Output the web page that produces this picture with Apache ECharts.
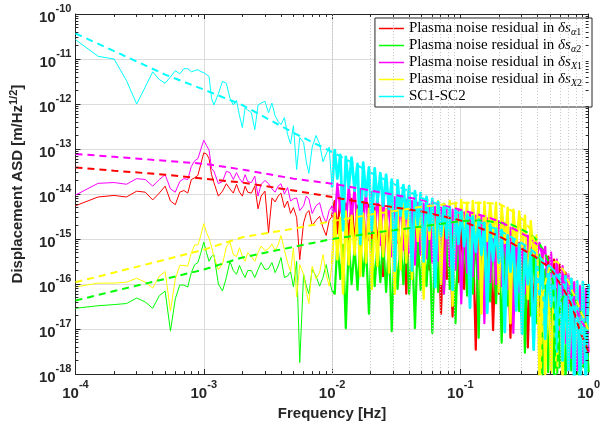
<!DOCTYPE html>
<html><head><meta charset="utf-8">
<script src="https://cdn.jsdelivr.net/npm/echarts@6/dist/echarts.min.js"></script>
<style>html,body{margin:0;padding:0;background:#fff}#c{width:603px;height:426px}</style>
</head><body><div id="c"></div>
<script>
// ---------- data ----------
const freq = [
 1e-4,1.5e-4,2e-4,2.5e-4,3e-4,3.5e-4,4e-4,4.5e-4,5e-4,5.5e-4,6e-4,6.5e-4,7e-4,7.5e-4,8e-4,8.5e-4,9e-4,9.5e-4,1e-3,
 1.05e-3,1.1e-3,1.15e-3,1.2e-3,1.3e-3,1.4e-3,1.5e-3,1.6e-3,1.7e-3,1.8e-3,1.9e-3,2e-3,2.1e-3,2.2e-3,2.35e-3,2.5e-3,2.65e-3,2.8e-3,3e-3,3.2e-3,
 3.4e-3,3.6e-3,3.8e-3,4e-3,4.25e-3,4.5e-3,4.75e-3,5e-3,5.3e-3,5.6e-3,6e-3,6.3e-3,6.6e-3,7e-3,7.5e-3,8e-3,8.5e-3,9e-3,9.5e-3,1e-2,
 0.0105,0.011,0.0116,0.0122,0.0128,0.0135,0.0142,0.015,0.0158,0.0166,0.0175,0.0184,0.0194,0.0204,0.0215,0.0226,0.0238,0.025,0.0264,0.0278,
 0.0292,0.0308,0.0324,0.0342,0.036,0.0379,0.0399,0.042,0.0443,0.0466,0.0491,0.0518,0.0545,0.0574,0.0605,0.0637,0.0671,0.0707,0.0745,0.0784,
 0.0826,0.087,0.0917,0.0966,0.1017,0.107,0.113,0.119,0.125,0.132,0.139,0.146,0.154,0.162,0.171,0.18,0.19,0.2,0.21,0.222,
 0.234,0.246,0.259,0.273,0.288,0.303,0.319,0.336,0.354,0.373,0.393,0.414,0.436,0.459,0.484,0.51,0.537,0.565,0.595,0.627,
 0.661,0.696,0.733,0.772,0.813,0.857,0.902,0.95,1.0
];
const resA1 = [
 5.5e-15,8.6e-15,9.3e-15,8.6e-15,1.16e-14,1.1e-14,7.4e-15,1.05e-14,1.5e-14,7.0e-15,5.8e-15,1.1e-14,1.2e-14,1.05e-14,2.1e-14,2.3e-14,2.6e-14,4.7e-14,8.2e-14,
 7.8e-14,6.1e-14,2.7e-14,1.8e-14,9.0e-15,1.16e-14,1.7e-14,1.3e-14,1.05e-14,1.65e-14,1.1e-14,9.0e-15,1.5e-14,1.1e-14,1.05e-14,1.5e-14,4.7e-15,9.0e-15,1.16e-14,1.4e-15,
 8.2e-15,6.7e-15,9.0e-15,1.05e-14,5.0e-15,7.0e-15,3.7e-15,5.0e-15,3.0e-15,3.5e-16,2.3e-15,3.7e-15,4.3e-15,2.0e-15,2.6e-15,3.2e-15,1.8e-15,1.2e-15,2.6e-15,3.2e-15,
 7.0e-15,1.35e-15,8.2e-15,2.0e-15,6.1e-15,1.0e-15,7.8e-15,7.4e-16,5.5e-15,1.65e-15,
 6.7e-15,4.1e-16,5.8e-15,8.2e-16,5.0e-15,5.8e-16,5.5e-15,1.5e-16,4.5e-15,5.0e-16,
 4.7e-15,4.1e-16,4.1e-15,3.0e-16,4.3e-15,6.1e-17,3.5e-15,3.3e-16,3.7e-15,2.5e-16,
 3.2e-15,1.0e-16,3.0e-15,2.1e-16,2.7e-15,1.8e-16,2.5e-15,2.2e-17,2.3e-15,1.3e-16,
 2.1e-15,1.9e-17,2.1e-15,1.1e-16,2.0e-15,7.8e-17,1.8e-15,1.0e-16,1.65e-15,3.5e-18,
 1.57e-15,7.4e-17,1.4e-15,6.1e-17,1.35e-15,9.5e-18,1.2e-15,6.1e-17,1.1e-15,4.7e-17,
 1.0e-15,6.4e-18,9.0e-16,4.1e-17,8.2e-16,3.3e-17,7.4e-16,3.9e-18,6.4e-16,2.5e-17,
 5.5e-16,2.0e-17,4.7e-16,1.35e-17,4.1e-16,8.2e-18,3.5e-16,1.05e-17,2.7e-16,3.0e-18,
 1.8e-16,1.8e-18,1.3e-16,1.0e-18,7.8e-17,1.4e-18,6.1e-17,1.65e-18,4.7e-17
];
const resA2 = [
 2.9e-17,3.3e-17,3.5e-17,3.7e-17,4.9e-17,4.0e-17,2.9e-17,5.5e-17,7.0e-17,9.0e-18,4.7e-17,9.5e-17,9.5e-17,8.6e-17,1.8e-16,2.7e-16,3.0e-16,5.0e-16,8.6e-16,
 5.0e-16,3.2e-16,4.1e-16,4.5e-16,1.0e-16,7.0e-17,1.4e-16,3.2e-16,2.0e-16,1.65e-16,2.6e-16,1.8e-16,1.4e-16,2.0e-16,2.0e-16,1.4e-16,2.1e-16,3.0e-16,2.1e-16,2.2e-16,
 3.0e-16,1.8e-16,2.5e-16,3.9e-16,1.4e-16,1.5e-16,1.9e-16,8.6e-17,3.2e-16,1.8e-18,1.65e-16,9.0e-17,6.1e-17,2.1e-16,1.5e-16,9.0e-17,1.4e-16,2.7e-16,1.3e-16,7.0e-17,
 6.1e-17,8.2e-16,1.3e-16,7.4e-16,1.05e-17,9.0e-16,1.0e-16,6.7e-16,7.4e-17,8.6e-16,
 1.5e-16,7.4e-16,2.2e-17,9.5e-16,9.0e-17,7.8e-16,1.1e-16,1.0e-15,6.7e-17,8.2e-16,
 9.0e-18,1.05e-15,7.8e-17,9.0e-16,1.0e-16,1.16e-15,6.1e-17,9.5e-16,1.05e-17,1.2e-15,
 7.4e-17,1.05e-15,9.0e-17,1.35e-15,8.2e-18,1.16e-15,6.7e-17,1.4e-15,6.1e-17,1.2e-15,
 7.8e-17,1.57e-15,1.35e-17,1.35e-15,6.7e-17,1.65e-15,5.5e-17,1.4e-15,6.1e-17,1.7e-15,
 6.4e-18,1.57e-15,4.7e-17,1.7e-15,4.1e-17,1.57e-15,3.7e-17,1.65e-15,5.0e-18,1.57e-15,
 3.3e-17,1.4e-15,2.9e-17,1.35e-15,2.5e-17,1.2e-15,3.0e-18,1.1e-15,2.0e-17,8.2e-16,
 1.35e-17,4.5e-16,8.6e-19,2.1e-16,1.1e-18,1.0e-16,1.0e-18,7.8e-17,1.4e-18,6.1e-17,
 8.6e-19,3.7e-17,1.2e-18,2.9e-17,1.0e-18,2.2e-17,1.4e-18,2.0e-17,1.1e-18
];
const resX1 = [
 9.5e-15,1.73e-14,1.8e-14,1.65e-14,2.2e-14,2.1e-14,1.5e-14,2.1e-14,2.7e-14,1.3e-14,1.1e-14,1.9e-14,2.2e-14,2.1e-14,4.1e-14,5.5e-14,6.1e-14,1.0e-13,1.57e-13,
 1.2e-13,9.5e-14,3.7e-14,3.2e-14,1.7e-14,1.9e-14,3.2e-14,3.0e-14,2.1e-14,3.0e-14,2.2e-14,1.8e-14,2.7e-14,1.9e-14,1.8e-14,2.5e-14,9.0e-15,1.65e-14,2.0e-14,1.7e-14,
 1.3e-14,1.1e-14,1.5e-14,1.7e-14,1.0e-14,1.4e-14,7.0e-15,7.8e-15,8.2e-15,4.3e-15,5.5e-15,9.0e-15,7.8e-15,3.7e-15,5.5e-15,6.4e-15,3.3e-15,2.3e-15,4.3e-15,5.5e-15,
 2.6e-15,1.7e-14,4.3e-15,1.5e-14,1.8e-15,1.55e-14,3.0e-15,1.35e-14,1.35e-15,1.3e-14,
 2.0e-15,1.16e-14,9.5e-16,1.1e-14,1.57e-15,1.05e-14,7.4e-16,9.5e-15,1.2e-15,9.0e-15,
 4.1e-16,8.6e-15,8.2e-16,8.2e-15,5.8e-16,7.4e-15,5.0e-16,7.0e-15,2.7e-16,6.4e-15,
 4.5e-16,6.1e-15,3.7e-16,5.8e-15,3.0e-16,5.2e-15,3.3e-16,5.0e-15,6.1e-17,4.7e-15,
 2.5e-16,4.5e-15,2.1e-16,4.3e-15,3.7e-17,3.9e-15,1.8e-16,3.7e-15,1.5e-16,3.3e-15,
 1.3e-16,3.2e-15,1.35e-17,2.9e-15,1.1e-16,2.6e-15,1.0e-16,2.5e-15,9.0e-17,2.1e-15,
 7.8e-17,1.8e-15,8.2e-18,1.65e-15,6.7e-17,1.4e-15,6.1e-17,1.2e-15,4.1e-16,9.5e-16,
 3.5e-16,8.2e-16,4.1e-16,6.7e-16,4.7e-17,5.0e-16,2.9e-17,3.5e-16,8.2e-18,2.5e-16,
 5.0e-18,1.65e-16,2.3e-18,1.1e-16,1.2e-18,9.0e-17,1.8e-18,7.8e-17,3.0e-18
];
const resX2 = [
 8.6e-17,1.05e-16,1.05e-16,1.1e-16,1.35e-16,1.1e-16,8.2e-17,1.5e-16,1.9e-16,2.5e-17,1.3e-16,2.6e-16,2.6e-16,2.5e-16,5.0e-16,7.4e-16,7.4e-16,1.22e-15,2.2e-15,
 1.4e-15,1.05e-15,6.7e-16,4.1e-16,2.1e-16,2.8e-16,6.7e-16,8.6e-16,4.5e-16,4.1e-16,6.4e-16,4.1e-16,3.2e-16,5.0e-16,4.1e-16,3.2e-16,5.0e-16,7.0e-16,5.5e-16,6.1e-16,
 7.8e-16,5.5e-16,7.4e-16,1.2e-15,5.8e-16,3.0e-16,1.9e-16,6.4e-16,5.2e-17,2.7e-16,1.65e-16,6.7e-17,3.7e-17,2.5e-16,1.3e-16,1.8e-16,4.5e-16,1.65e-16,9.0e-17,2.8e-16,
 3.7e-15,3.5e-16,3.0e-15,6.1e-17,4.1e-15,2.7e-16,3.3e-15,4.5e-16,4.5e-15,1.5e-16,
 3.7e-15,3.0e-16,4.7e-15,7.8e-17,4.1e-15,2.5e-16,5.2e-15,4.1e-16,4.5e-15,1.8e-16,
 5.5e-15,6.1e-17,4.7e-15,2.1e-16,6.1e-15,3.0e-16,5.2e-15,1.3e-16,6.4e-15,9.0e-16,
 5.5e-15,4.7e-17,6.7e-15,1.0e-15,5.8e-15,8.2e-16,7.0e-15,1.0e-16,6.1e-15,1.1e-15,
 7.0e-15,3.3e-17,6.4e-15,9.5e-16,7.4e-15,1.2e-15,6.4e-15,9.0e-17,7.0e-15,1.0e-15,
 6.4e-15,2.2e-17,6.7e-15,9.0e-16,6.1e-15,1.1e-15,6.4e-15,6.7e-17,5.5e-15,8.2e-16,
 5.0e-15,1.35e-17,4.5e-15,7.0e-16,4.1e-15,6.1e-16,3.3e-15,4.7e-17,2.5e-15,4.5e-16,
 1.2e-15,8.6e-19,3.5e-16,1.0e-18,2.1e-16,1.1e-18,1.4e-16,1.2e-18,1.1e-16,8.6e-19,
 7.8e-17,1.4e-18,6.1e-17,1.1e-18,4.7e-17,1.65e-18,6.1e-17,1.2e-18,4.7e-17
];
const sc12 = [
 2.7e-11,1.15e-11,1.0e-11,3.3e-12,1.0e-12,2.4e-12,5.2e-12,3.5e-12,2.9e-12,4.0e-12,5.5e-12,4.7e-12,6.1e-12,6.1e-12,5.2e-12,5.5e-12,5.8e-12,5.2e-12,5.0e-12,
 4.5e-12,4.1e-12,1.35e-12,9.5e-13,1.7e-12,3.2e-12,2.9e-12,1.35e-12,9.5e-13,1.2e-12,5.5e-13,3.0e-13,8.2e-13,7.4e-13,6.4e-13,2.7e-13,9.5e-13,1.05e-12,1.15e-12,6.4e-13,
 1.05e-12,5.5e-13,4.1e-13,3.5e-13,5.0e-13,2.1e-13,1.3e-13,3.3e-13,3.5e-14,1.8e-13,1.4e-13,5.2e-14,2.9e-14,1.1e-13,2.0e-13,1.3e-13,5.2e-14,7.8e-14,1.1e-13,1.4e-14,
 9.5e-14,2.2e-14,7.4e-14,1.57e-15,6.7e-14,1.4e-14,6.4e-14,1.2e-14,4.7e-14,7.8e-16,
 5.0e-14,9.0e-15,3.9e-14,1.57e-15,3.7e-14,6.7e-15,2.9e-14,5.5e-15,2.7e-14,4.7e-15,
 2.1e-14,2.0e-16,2.0e-14,3.3e-15,1.57e-14,2.9e-15,1.5e-14,2.0e-16,1.16e-14,2.1e-15,
 1.05e-14,3.2e-16,8.6e-15,1.57e-15,7.8e-15,8.6e-17,6.7e-15,1.2e-15,5.8e-15,1.05e-15,
 5.2e-15,7.4e-17,4.5e-15,7.8e-16,4.3e-15,7.0e-16,3.5e-15,3.0e-17,3.2e-15,5.2e-16,
 2.7e-15,4.5e-16,2.3e-15,2.3e-17,2.1e-15,3.3e-16,1.7e-15,3.0e-16,1.57e-15,8.6e-18,
 1.2e-15,1.9e-16,1.0e-15,2.6e-17,7.8e-16,7.8e-18,6.4e-16,1.0e-16,5.0e-16,3.5e-18,
 3.9e-16,5.8e-17,3.2e-16,6.1e-18,2.5e-16,3.2e-17,2.0e-16,3.2e-18,1.65e-16,2.0e-18,
 1.5e-16,1.2e-18,1.3e-16,6.7e-19,1.16e-16,5.2e-19,1.1e-16,6.7e-19,1.0e-16
];
const fModel = [1e-4,2e-4,5e-4,1e-3,2e-3,5e-3,0.01,0.02,0.05,0.1,0.15,0.2,0.25,0.3,0.35,0.38,0.4,0.42,0.44,0.47,0.5,0.53,0.56,0.6,0.65,0.7,0.75,0.8,0.85,0.9,0.95,1.0];
const modA1 = [3.9e-14,3.3e-14,2.7e-14,2.2e-14,1.8e-14,1.2e-14,8.6e-15,6.1e-15,4.1e-15,2.6e-15,1.65e-15,1.16e-15,8.2e-16,6.1e-16,4.7e-16,4.1e-16,3.7e-16,3.3e-16,3.0e-16,2.6e-16,2.1e-16,1.8e-16,1.4e-16,1.0e-16,7.0e-17,4.7e-17,2.9e-17,1.75e-17,9.5e-18,6.4e-18,4.5e-18,3.0e-18];
const modA2 = [4.3e-17,7.0e-17,1.3e-16,2.1e-16,3.9e-16,6.7e-16,1.0e-15,1.35e-15,1.9e-15,2.5e-15,2.6e-15,2.3e-15,2.1e-15,1.65e-15,1.3e-15,1.05e-15,9.0e-16,7.4e-16,5.8e-16,4.1e-16,2.5e-16,1.0e-16,3e-19,3.7e-17,6.1e-17,6.7e-17,5.5e-17,4.1e-17,2.7e-17,2.0e-17,1.35e-17,9.0e-18];
const modX1 = [7.8e-14,6.7e-14,5.5e-14,4.7e-14,3.5e-14,2.2e-14,1.7e-14,1.2e-14,7.4e-15,4.5e-15,3.3e-15,2.5e-15,1.8e-15,1.35e-15,1.05e-15,8.6e-16,7.4e-16,6.4e-16,5.5e-16,4.5e-16,3.7e-16,3.0e-16,2.2e-16,1.5e-16,1.05e-16,6.7e-17,4.7e-17,2.9e-17,1.75e-17,1.35e-17,1.05e-17,8.2e-18];
const modX2 = [1.1e-16,1.8e-16,3.5e-16,5.8e-16,1.1e-15,1.7e-15,2.5e-15,3.5e-15,5.2e-15,6.4e-15,6.4e-15,6.1e-15,4.3e-15,2.9e-15,1.7e-15,8.2e-16,4.1e-16,3e-19,6.1e-17,1.4e-16,2.5e-16,3.0e-16,3.2e-16,2.7e-16,1.8e-16,1.1e-16,6.7e-17,4.7e-17,2.9e-17,2.0e-17,1.35e-17,9.0e-18];
const modSC = [3.7e-11,1.5e-11,4.5e-12,2.1e-12,9.5e-13,2.3e-13,8.6e-14,3.0e-14,8.2e-15,3.7e-15,2.2e-15,1.57e-15,1.1e-15,8.2e-16,6.1e-16,5.0e-16,4.5e-16,3.9e-16,3.3e-16,2.9e-16,2.5e-16,2.1e-16,1.65e-16,1.2e-16,9.0e-17,6.1e-17,3.7e-17,2.2e-17,1.2e-17,6.4e-18,3.3e-18,1.8e-18];
const seriesNames = ['Plasma noise residual in δsα1','Plasma noise residual in δsα2','Plasma noise residual in δsX1','Plasma noise residual in δsX2','SC1-SC2'];
const legendRich = ['Plasma noise residual in {i|δs}{sub|α}{sr|1}','Plasma noise residual in {i|δs}{sub|α}{sr|2}','Plasma noise residual in {i|δs}{sub|X}{sr|1}','Plasma noise residual in {i|δs}{sub|X}{sr|2}','SC1-SC2'];
const colors = ['#ff0000','#00ff00','#ff00ff','#ffff00','#00ffff'];

// ---------- build ----------
const pair = (xs, ys) => xs.map((x, i) => [x, ys[i]]);
const noise = [resA1, resA2, resX1, resX2, sc12];
const models = [modA1, modA2, modX1, modX2, modSC];
const denseWidth = [2.2, 2.2, 2.2, 2.4, 2.8];
const X0 = 1e-4, X1 = 1, Y0 = 1e-18, Y1 = 1e-10;
const SPLIT = 58; // index where the spectrum becomes dense (10 mHz)
const minorX = [], minorY = [];
for (let d = -4; d < 0; d++) for (let m = 2; m <= 9; m++) minorX.push(+(m * Math.pow(10, d)).toPrecision(3));
for (let d = -18; d < -10; d++) for (let m = 2; m <= 9; m++) minorY.push(+(m * Math.pow(10, d)).toPrecision(3));
const tk = 3, tkM = 5;
const yUp = n => Y0 * Math.pow(10, n / 46), yDn = n => Y1 * Math.pow(10, -n / 46);
const xR = n => X0 * Math.pow(10, n / 131.25), xL = n => X1 * Math.pow(10, -n / 131.25);
const gridLines = [];
minorX.forEach(v => gridLines.push({xAxis: v, lineStyle: {type: [1, 2], color: '#c4c4c4'}}));
minorY.forEach(v => gridLines.push({yAxis: v, lineStyle: {type: [1, 2], color: '#c4c4c4'}}));
const tickSegs = [];
minorX.forEach(v => { tickSegs.push([{coord: [v, Y0]}, {coord: [v, yUp(tk)]}]); tickSegs.push([{coord: [v, Y1]}, {coord: [v, yDn(tk)]}]); });
minorY.forEach(v => { tickSegs.push([{coord: [X0, v]}, {coord: [xR(tk), v]}]); tickSegs.push([{coord: [X1, v]}, {coord: [xL(tk), v]}]); });

const FONT = 'Liberation Sans';
const expLabel = v => '{b|10}{s|' + Math.round(Math.log10(v)) + '}';
const labRich = {
  b: {fontFamily: FONT, fontWeight: 'bold', fontSize: 15, color: '#262626', lineHeight: 22, verticalAlign: 'bottom'},
  s: {fontFamily: FONT, fontWeight: 'bold', fontSize: 11, color: '#262626', lineHeight: 12, verticalAlign: 'top'}
};
const axisCommon = {
  type: 'log', logBase: 10,
  axisLine: {show: true, lineStyle: {color: '#262626', width: 1}},
  axisTick: {show: true, inside: true, length: tkM, lineStyle: {color: '#262626'}},
  minorTick: {show: false}
};

const series = [];
series.push({
  type: 'line', name: '_grid', data: [], z: 1, silent: true,
  markLine: {silent: true, symbol: 'none', animation: false, label: {show: false},
    lineStyle: {width: 1}, data: gridLines}
});
noise.forEach((arr, k) => {
  const pts = pair(freq, arr);
  series.push({
    type: 'line', name: seriesNames[k], data: pts.slice(0, SPLIT + 2), symbol: 'none', showSymbol: false,
    lineStyle: {color: colors[k], width: 1}, itemStyle: {color: colors[k]}, z: 2, clip: true, silent: true
  });
  series.push({
    type: 'line', name: seriesNames[k], data: pts.slice(SPLIT), symbol: 'none', showSymbol: false,
    lineStyle: {color: colors[k], width: denseWidth[k], join: 'round'}, itemStyle: {color: colors[k]}, z: 2, clip: true, silent: true
  });
});
models.forEach((arr, k) => series.push({
  type: 'line', name: 'model ' + k, data: pair(fModel, arr), symbol: 'none', showSymbol: false,
  lineStyle: {color: colors[k], width: 2, type: [7, 5]}, itemStyle: {color: colors[k]}, z: 3, clip: true, silent: true
}));
series.push({
  type: 'line', name: '_ticks', data: [], z: 4, silent: true,
  markLine: {silent: true, symbol: 'none', animation: false, label: {show: false},
    lineStyle: {width: 1, type: 'solid', color: '#262626'}, data: tickSegs}
});

const option = {
  animation: false,
  backgroundColor: '#ffffff',
  grid: {left: 67, right: 11, top: 14, bottom: 44, containLabel: false},
  legend: {
    data: seriesNames, orient: 'vertical', right: 11, top: 18,
    icon: 'rect', itemWidth: 25, itemHeight: 1.5, itemGap: 0, padding: [2, 10, 2, 4],
    backgroundColor: '#ffffff', borderColor: '#262626', borderWidth: 1, borderRadius: 0,
    formatter: n => legendRich[seriesNames.indexOf(n)],
    textStyle: {fontFamily: 'Liberation Serif', fontSize: 15, color: '#000', lineHeight: 17,
      rich: {
        i: {fontFamily: 'Liberation Serif', fontStyle: 'italic', fontSize: 15, color: '#000', lineHeight: 17},
        sub: {fontFamily: 'Liberation Serif', fontStyle: 'italic', fontSize: 10, color: '#000', lineHeight: 10, padding: [7, 0, 0, 0]},
        sr: {fontFamily: 'Liberation Serif', fontSize: 10, color: '#000', lineHeight: 10, padding: [7, 0, 0, 0]}
      }}
  },
  xAxis: [
    Object.assign({}, axisCommon, {
      min: X0, max: X1, splitNumber: 4, position: 'bottom',
      name: 'Frequency [Hz]', nameLocation: 'middle', nameGap: 28,
      nameTextStyle: {fontFamily: FONT, fontWeight: 'bold', fontSize: 15, color: '#262626'},
      axisLabel: {formatter: expLabel, rich: labRich, margin: 5, showMinLabel: true, showMaxLabel: true},
      splitLine: {show: true, lineStyle: {color: '#dcdcdc', width: 1}}
    }),
    Object.assign({}, axisCommon, {
      min: X0, max: X1, splitNumber: 4, position: 'top',
      axisLabel: {show: false}, splitLine: {show: false}
    })
  ],
  yAxis: [
    Object.assign({}, axisCommon, {
      min: Y0, max: Y1, splitNumber: 8, position: 'left',
      name: 'Displacement ASD [m/Hz{s|1/2}]', nameLocation: 'middle', nameGap: 40, nameRotate: 90,
      nameTextStyle: {fontFamily: FONT, fontWeight: 'bold', fontSize: 15, color: '#262626', lineHeight: 20,
        padding: [0, 0, 0, 20],
        rich: {s: {fontFamily: FONT, fontWeight: 'bold', fontSize: 11, color: '#262626', verticalAlign: 'top', lineHeight: 10}}},
      axisLabel: {formatter: expLabel, rich: labRich, margin: 4, showMinLabel: true, showMaxLabel: true},
      splitLine: {show: true, lineStyle: {color: '#dcdcdc', width: 1}}
    }),
    Object.assign({}, axisCommon, {
      min: Y0, max: Y1, splitNumber: 8, position: 'right',
      axisLabel: {show: false}, splitLine: {show: false}
    })
  ],
  series: series
};
const chart = echarts.init(document.getElementById('c'), null, {renderer: 'canvas', width: 603, height: 426});
chart.setOption(option);
</script>
</body></html>
